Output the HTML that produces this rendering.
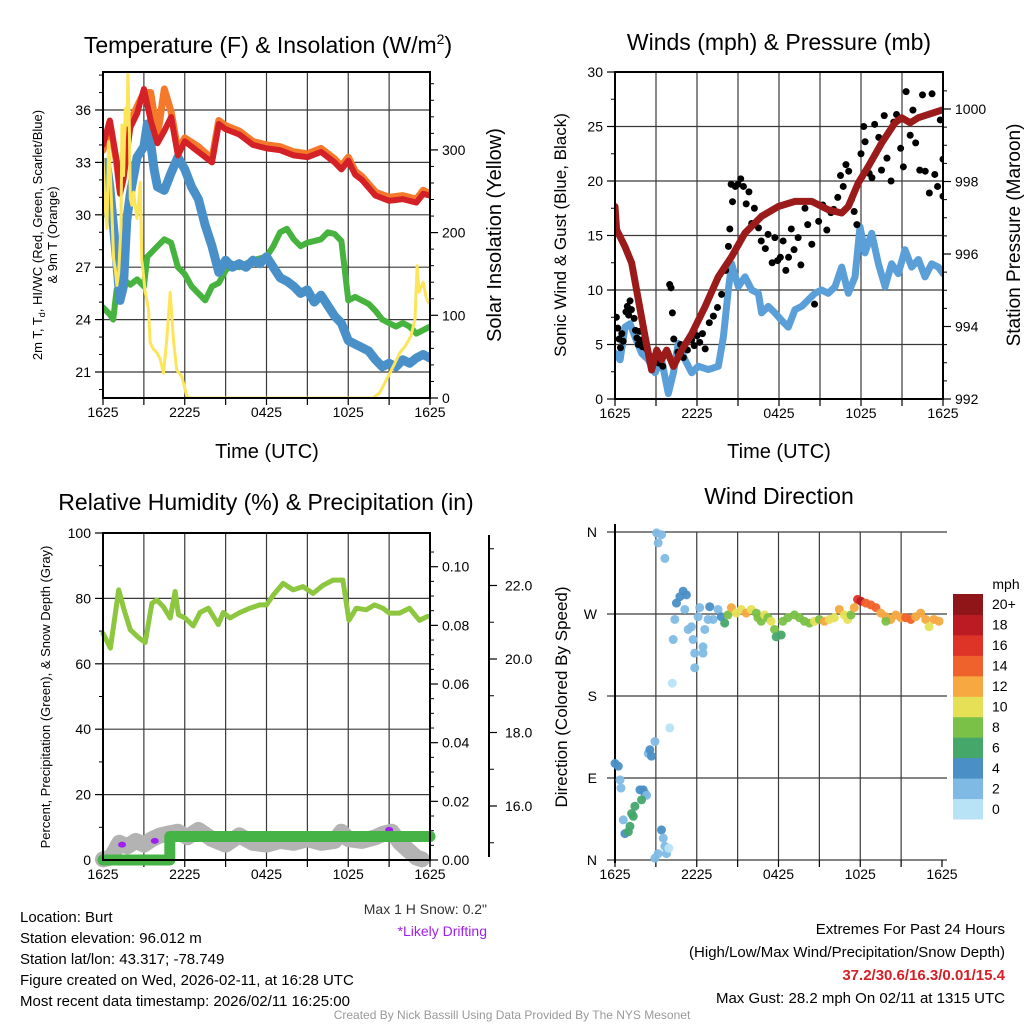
<!DOCTYPE html>
<html><head><meta charset="utf-8">
<style>
html,body{margin:0;padding:0;background:#fff;}
svg{display:block;font-family:"Liberation Sans",Arial,sans-serif;}
</style></head>
<body>
<svg id="chart" width="1024" height="1024" viewBox="0 0 1024 1024" xmlns="http://www.w3.org/2000/svg">
<rect width="1024" height="1024" fill="#fff"/>
<g id="layer"></g>
<!-- Titles -->
<text x="268" y="53" font-size="23" text-anchor="middle">Temperature (F) &amp; Insolation (W/m<tspan dy="-9" font-size="14">2</tspan><tspan dy="9">)</tspan></text>
<text x="779" y="50" font-size="23" text-anchor="middle">Winds (mph) &amp; Pressure (mb)</text>
<text x="266" y="510" font-size="23" text-anchor="middle">Relative Humidity (%) &amp; Precipitation (in)</text>
<text x="779" y="504" font-size="23" text-anchor="middle">Wind Direction</text>
<!-- Axis titles -->
<text transform="translate(42,235) rotate(-90)" font-size="13" text-anchor="middle">2m T, T<tspan font-size="9" dy="3">d</tspan><tspan dy="-3">, HI/WC (Red, Green, Scarlet/Blue)</tspan></text>
<text transform="translate(57,235) rotate(-90)" font-size="13" text-anchor="middle">&amp; 9m T (Orange)</text>
<text transform="translate(501,235) rotate(-90)" font-size="20" text-anchor="middle">Solar Insolation (Yellow)</text>
<text transform="translate(566,235) rotate(-90)" font-size="17" text-anchor="middle">Sonic Wind &amp; Gust (Blue, Black)</text>
<text transform="translate(1020,235) rotate(-90)" font-size="19" text-anchor="middle">Station Pressure (Maroon)</text>
<text transform="translate(50,697) rotate(-90)" font-size="13" text-anchor="middle">Percent, Precipitation (Green), &amp; Snow Depth (Gray)</text>
<text transform="translate(567,697) rotate(-90)" font-size="17" text-anchor="middle">Direction (Colored By Speed)</text>
<text x="267" y="458" font-size="20" text-anchor="middle">Time (UTC)</text>
<text x="779" y="458" font-size="20" text-anchor="middle">Time (UTC)</text>
<!-- footer text -->
<text x="487" y="914" font-size="14" fill="#333" text-anchor="end">Max 1 H Snow: 0.2"</text>
<text x="487" y="936" font-size="14" fill="#a020f0" text-anchor="end">*Likely Drifting</text>
<g font-size="15">
<text x="20" y="922">Location: Burt</text>
<text x="20" y="943">Station elevation: 96.012 m</text>
<text x="20" y="964">Station lat/lon: 43.317; -78.749</text>
<text x="20" y="985">Figure created on Wed, 2026-02-11, at 16:28 UTC</text>
<text x="20" y="1006">Most recent data timestamp: 2026/02/11 16:25:00</text>
</g>
<g font-size="15" text-anchor="end">
<text x="1005" y="934">Extremes For Past 24 Hours</text>
<text x="1005" y="957">(High/Low/Max Wind/Precipitation/Snow Depth)</text>
<text x="1005" y="980" font-weight="bold" fill="#d42027">37.2/30.6/16.3/0.01/15.4</text>
<text x="1005" y="1003">Max Gust: 28.2 mph On 02/11 at 1315 UTC</text>
</g>
<text x="512" y="1019" font-size="12" fill="#999" text-anchor="middle">Created By Nick Bassill Using Data Provided By The NYS Mesonet</text>
</svg>
<script>
// ===== Data =====
const timeTickLabels = ["1625","2225","0425","1025","1625"];
// Panel 1: temperature
const tempHours = [0,0.5,1,1.25,1.5,2,2.5,3,3.5,4,4.5,5,5.5,6,7,8,8.5,9,10,11,12,13,14,15,16,17,17.5,18,18.5,19,20,21,22,23,23.5,24];
const temp2m = [34.0,35.4,33.1,31.2,32.0,35.0,35.8,37.2,35.4,34.1,34.8,35.6,33.4,34.2,33.6,33.0,35.2,34.9,34.6,34.0,33.8,33.7,33.4,33.3,33.6,33.0,32.6,33.1,32.3,32.0,31.1,30.8,30.9,30.7,31.2,31.1];
const temp9m = [33.7,35.3,33.0,31.4,32.4,35.3,36.2,37.0,37.0,34.5,37.2,35.9,33.7,34.4,33.9,33.2,35.4,35.1,34.8,34.2,34.0,33.9,33.6,33.5,33.8,33.2,32.8,33.3,32.5,32.2,31.3,31.0,31.1,30.9,31.4,31.2];
const dewHours = [0,0.25,0.5,1,1.25,1.5,1.75,2,2.5,3,3.25,3.5,3.75,4,4.5,5,5.5,6,6.5,7,7.5,8,8.5,9,9.5,10,10.5,11,11.5,12,12.5,13,13.5,14,14.5,15,15.5,16,16.5,17,17.5,18,18.5,19,19.5,20,20.5,21,21.5,22,22.5,23,23.5,24];
const dewPoint = [30.1,33.0,31.6,27.4,25.1,25.9,29.7,31.2,33.3,33.9,35.2,34.1,32.6,31.6,31.4,32.4,33.3,32.6,31.6,30.9,29.4,28.2,26.7,27.4,27.0,27.2,27.0,27.4,27.2,27.6,27.0,26.4,26.2,25.9,25.5,25.7,25.0,25.4,24.8,24.2,23.8,22.8,22.6,22.4,22.2,21.7,21.3,21.5,21.3,21.7,21.5,21.8,22.0,21.8];
const wcHours = [0,0.5,0.75,1,1.5,2,2.5,3,3.25,3.5,4,4.5,5,5.5,6,6.5,7,7.5,8,8.5,9,9.5,10,11,12,12.5,13,13.5,14,14.5,15,16,16.5,17,17.5,18,18.5,19,19.5,20,20.5,21,21.5,22,22.5,23,23.5,24];
const windChill = [24.7,24.3,24.0,25.7,26.3,26.0,26.3,25.9,27.6,27.8,28.2,28.6,28.4,27.0,26.6,25.9,25.5,25.1,25.9,26.1,26.8,27.2,27.0,27.4,27.6,28.2,29.0,29.2,28.6,28.2,28.4,28.6,29.0,28.9,28.5,25.1,25.3,25.1,24.9,24.5,24.0,23.8,23.6,23.8,23.6,23.2,23.4,23.6];
const solarHours = [0,0.17,0.29,0.41,0.54,0.66,0.78,0.9,1.02,1.15,1.32,1.39,1.51,1.63,1.76,1.83,1.93,2.0,2.12,2.24,2.49,2.61,2.73,2.85,3.1,3.34,3.46,3.7,3.95,4.2,4.44,4.68,4.93,5.17,5.41,5.78,6.15,6.4,19.8,20.3,20.8,21.3,21.8,22.2,22.6,22.9,23.05,23.2,23.5,23.7,23.9];
const solar = [290,229,205,310,269,221,168,156,136,152,209,330,269,350,330,395,330,241,233,249,217,237,261,168,128,107,67,59,55,47,30,71,128,71,34,26,2,0,0,6,22,38,55,63,75,95,160,128,140,123,115];
// Panel 2: winds & pressure
const windHours = [0,0.37,0.73,1.1,1.46,1.95,2.44,2.93,3.41,3.9,4.27,4.63,5.12,5.61,6.1,6.83,7.56,7.93,8.29,8.54,9.02,9.51,10,10.49,10.73,11.22,11.71,12.2,12.68,13.17,13.66,14.15,14.63,15.12,15.61,16.1,16.59,17.07,17.56,17.93,18.29,18.78,19.27,19.76,20.24,20.73,21.22,21.71,22.2,22.68,23.17,23.66,24];
const windSpeed = [4.2,3.6,6.6,6.9,5.7,4.2,3.6,2.4,3.6,0.5,2.4,5.1,3.6,2.4,3.0,2.7,3.0,5.7,10.0,12.4,10.3,11.2,10.0,9.7,7.9,8.5,7.9,7.2,6.6,8.2,8.5,9.1,9.7,10.0,9.7,10.3,12.1,9.7,11.2,15.8,13.4,15.2,12.4,10.3,12.4,11.5,13.7,12.1,12.8,11.2,12.4,12.1,11.5];
const gustHours = [0.1,0.2,0.3,0.4,0.5,0.6,0.8,0.9,1.0,1.1,1.2,1.4,1.5,1.6,1.7,1.8,1.9,2.0,2.3,2.6,2.8,3.2,3.5,4.0,4.1,4.2,4.3,4.6,4.8,5.0,5.3,5.6,5.8,6.0,6.2,6.4,6.6,6.9,7.2,7.5,7.8,8.1,8.3,8.4,8.5,8.6,8.8,9.0,9.2,9.4,9.6,9.8,10.0,10.2,10.5,10.7,11.0,11.2,11.5,11.7,11.9,12.1,12.3,12.5,12.7,12.9,13.1,13.4,13.6,13.9,14.1,14.4,14.6,14.9,15.2,15.5,15.8,16.0,16.3,16.5,16.7,16.9,17.1,17.3,17.5,17.7,18.0,18.2,18.3,18.6,18.8,19.0,19.3,19.5,19.7,19.9,20.2,20.4,20.6,20.9,21.1,21.3,21.6,21.8,22.0,22.3,22.5,22.7,23.0,23.2,23.4,23.6,23.8,24.0,24.0];
const gustSpeed = [7.5,6.5,5.5,4.7,6.0,5.3,8.0,8.5,7.7,9.0,8.2,7.4,6.3,5.6,5.0,6.2,5.4,4.8,4.6,3.9,3.6,3.3,3.0,10.5,10.2,7.9,5.5,4.3,5.0,3.8,4.5,5.4,4.9,5.8,5.2,6.0,4.6,7.0,7.6,8.4,9.6,11.8,14.0,15.6,19.7,18.1,19.5,19.7,20.2,19.5,17.9,19.0,16.1,17.5,15.7,14.5,13.8,15.1,12.5,14.8,12.7,13.0,14.5,11.8,13.0,15.6,13.7,14.8,12.3,17.5,16.0,14.2,8.7,16.3,17.8,15.5,17.1,17.4,18.5,20.5,19.5,21.5,20.9,18.3,17.2,16.0,22.5,25.0,23.6,20.7,20.3,25.2,24.0,21.0,26.0,22.1,20.0,25.4,26.1,23.0,21.3,28.2,24.2,26.5,23.5,21.0,27.9,20.9,18.9,28.0,20.6,19.5,25.6,18.6,22.0];
const presHours = [0,0.12,0.73,1.22,1.71,2.2,2.68,3.05,3.41,3.78,4.27,4.88,5.61,6.59,7.56,8.54,9.51,10.73,11.95,13.17,14.39,15.61,16.59,17.07,17.8,18.54,19.51,20.49,20.98,21.59,22.2,22.93,24];
const pressure = [997.31,996.67,996.2,995.75,994.73,993.72,992.8,993.35,993.08,993.35,992.9,993.35,993.8,994.55,995.37,995.93,996.58,997.04,997.31,997.45,997.45,997.22,997.13,997.31,997.96,998.42,999.06,999.62,999.76,999.62,999.76,999.85,999.98];
// Panel 3: humidity, precip, snow
const rhHours = [0,0.54,1.15,1.51,2.0,2.61,3.1,3.59,3.95,4.44,4.93,5.29,5.54,6.02,6.63,7.12,7.73,8.46,8.83,9.32,10.05,10.78,11.51,12.0,12.49,13.22,13.95,14.68,15.41,16.15,16.88,17.61,18.05,18.59,19.32,19.93,20.54,21.02,21.76,22.49,23.22,23.83];
const relHum = [69.3,64.8,82.6,77.0,70.4,68.0,66.5,78.5,79.5,77.4,74.0,82.1,75.0,74.0,71.6,75.7,77.0,72.0,75.7,74.0,75.7,77.0,78.0,78.0,81.0,84.6,82.6,83.6,81.5,84.0,85.6,85.6,73.3,77.0,76.5,78.0,77.0,75.5,75.5,77.0,73.3,74.5];
const precipHours = [0,4.9,4.9,24];
const precip = [0,0,0.008,0.008];
const snowHours = [0,0.6,1.2,1.8,2.4,3.0,3.6,4.2,4.8,5.5,6.2,7.0,8.0,9.0,10.0,11.0,12.0,13.0,14.0,15.0,16.0,17.0,17.5,18.0,19.0,20.0,20.6,21.2,21.8,22.4,23.0,23.4];
const snowDepth = [14.55,14.6,15.0,14.9,15.05,14.95,15.1,15.2,15.25,15.3,15.15,15.35,15.1,14.95,15.2,15.0,14.95,15.05,15.0,15.1,15.0,15.05,15.3,15.1,15.05,15.15,15.25,15.3,15.0,14.8,14.6,14.55];
const driftHours = [1.4,3.8,21.0];
const driftDepth = [14.95,15.05,15.35];
// Panel 4: wind direction
const dirHours = [0,0.24,0.37,0.44,0.61,0.73,0.98,1.1,1.22,1.34,1.46,1.83,2.07,2.2,2.32,1.95,2.44,2.56,2.68,2.93,3.05,3.17,3.41,3.66,2.93,3.17,3.41,3.54,3.66,3.78,3.95,4.02,4.2,4.27,4.39,4.51,4.76,5.0,5.24,5.12,5.37,5.61,5.73,5.85,5.85,6.1,6.22,6.46,6.46,6.59,6.83,6.95,7.2,7.56,7.8,8.05,8.29,8.54,8.9,9.27,9.63,10,10.37,10.49,10.73,10.98,11.22,11.46,11.71,11.83,12.2,12.32,12.68,13.17,13.54,13.9,14.27,14.63,15,15.37,15.73,16.1,16.46,16.83,17.07,17.32,17.56,17.8,18.05,18.41,18.78,19.15,19.51,19.88,20.24,20.61,20.98,21.34,21.71,22.07,22.44,22.8,23.05,23.41,23.78,19.88];
const dirDeg = [106,103,88,79,44,29,31,37,51,48,59,77,77,73,71,66,117,121,114,130,359,348,357,331,2,7,33,24,15,7,13,145,194,242,264,282,289,295,291,275,253,256,242,227,211,267,277,234,227,253,264,278,264,275,267,260,269,277,271,275,271,275,271,266,262,269,266,262,253,245,247,262,266,269,266,262,260,262,264,262,264,266,275,269,264,269,277,286,284,282,280,277,271,267,264,269,266,266,264,267,271,264,256,264,262,262];
const dirSpeed = [4,4,2,2,2,4,6,6,6,6,6,4,4,4,2,6,2,4,4,2,2,2,2,2,2,2,4,2,2,2,0,0,0,2,2,4,4,4,4,2,2,2,2,2,2,2,2,2,2,2,2,4,2,2,4,6,8,12,10,10,12,10,8,8,8,10,8,10,8,6,6,8,8,8,8,8,8,10,8,12,10,10,12,10,10,8,12,16,18,14,14,14,12,12,12,12,12,14,14,12,12,12,10,12,12,8];
const speedBins = ["0","2","4","6","8","10","12","14","16","18","20+"];

// ===== Helpers =====
const NS = "http://www.w3.org/2000/svg";
const layer = document.getElementById("layer");
function mk(tag, attrs, parent) {
  const e = document.createElementNS(NS, tag);
  for (const k in attrs) e.setAttribute(k, attrs[k]);
  (parent || layer).appendChild(e);
  return e;
}
function lin(d0, d1, r0, r1) { return v => r0 + (v - d0) * (r1 - r0) / (d1 - d0); }
function poly(xs, ys, fx, fy, color, w, name, opts) {
  const pts = xs.map((h, i) => fx(h).toFixed(1) + "," + fy(ys[i]).toFixed(1)).join(" ");
  const p = mk("polyline", Object.assign({points: pts, fill: "none", stroke: color, "stroke-width": w, "stroke-linejoin": "round", "stroke-linecap": "round"}, opts || {}));
  
  
  return p;
}
function txt(x, y, s, size, anchor, name) {
  const t = mk("text", {x: x, y: y, "font-size": size, "text-anchor": anchor || "middle"});
  t.textContent = s;
  
  
  return t;
}
function frame(L, R, T, B, fx, name) {
  for (let h = 3; h < 24; h += 3) mk("line", {x1: fx(h), x2: fx(h), y1: T, y2: B, stroke: "#3a3a3a", "stroke-width": 1.2});
  for (let h = 0; h <= 24; h += 3) mk("line", {x1: fx(h), x2: fx(h), y1: B, y2: B + 7, stroke: "#000", "stroke-width": 1.2});
  timeTickLabels.forEach((s, i) => { txt(fx(i * 6), B + 19, s, 14, "middle", name + "-x-tick-" + i); });
}
function box(L, R, T, B, name) {
  const r = mk("rect", {x: L, y: T, width: R - L, height: B - T, fill: "none", stroke: "#000", "stroke-width": 2});
  
  
}
function yTicks(x, dir, vals, fy, labels, lenMaj, minors, name, fsz) {
  vals.forEach((v, i) => {
    mk("line", {x1: x, x2: x + dir * lenMaj, y1: fy(v), y2: fy(v), stroke: "#000", "stroke-width": 1.2});
    if (labels) txt(x + dir * (lenMaj + 4), fy(v) + 5, labels[i], fsz || 14, dir < 0 ? "end" : "start", name + "-tick-" + i);
  });
  (minors || []).forEach(v => mk("line", {x1: x, x2: x + dir * 4, y1: fy(v), y2: fy(v), stroke: "#000", "stroke-width": 1}));
}

// ===== Panel 1 =====
(function () {
  const L = 103, R = 430, T = 72, B = 398;
  const fx = lin(0, 24, L, R), fy = lin(21, 36, 372, 110), fs = lin(0, 100, 398, 315.3);
  [21, 24, 27, 30, 33, 36].forEach(v => mk("line", {x1: L, x2: R, y1: fy(v), y2: fy(v), stroke: "#3a3a3a", "stroke-width": 1.2}));
  frame(L, R, T, B, fx, "temperature");
  const lab = [21, 24, 27, 30, 33, 36];
  const minors = []; for (let v = 20; v <= 38; v++) if (v % 3) minors.push(v);
  yTicks(L, -1, lab, fy, lab.map(String), 8, minors, "temperature-y", 14);
  const sm = []; for (let v = 20; v <= 380; v += 20) if (v % 100) sm.push(v);
  yTicks(R, 1, [0, 100, 200, 300], fs, ["0", "100", "200", "300"], 8, sm, "solar-y", 14);
  const clip = mk("clipPath", {id: "c1"}); mk("rect", {x: L, y: T, width: R - L, height: B - T}, clip);
  const cg = mk("g", {"clip-path": "url(#c1)"});
  function P(xs, ys, f, c, w, n) { const p = poly(xs, ys, fx, f, c, w, n); cg.appendChild(p); }
  P(wcHours, windChill, fy, "#47b33f", 6, "wind-chill-line");
  P(dewHours, dewPoint, fy, "#4a90c8", 9, "dew-point-line");
  P(tempHours, temp9m, fy, "#f4792b", 7, "temp-9m-line");
  P(tempHours, temp2m, fy, "#d42027", 6, "temp-2m-line");
  P(solarHours, solar, fs, "#fde55a", 3, "solar-insolation-line");
  box(L, R, T, B, "temperature-plot-frame");
})();

// ===== Panel 2 =====
(function () {
  const L = 615, R = 943, T = 72, B = 399;
  const fx = lin(0, 24, L, R), fy = lin(0, 30, B, T), fp = lin(992, 1000, 399, 109);
  [5, 10, 15, 20, 25].forEach(v => mk("line", {x1: L, x2: R, y1: fy(v), y2: fy(v), stroke: "#3a3a3a", "stroke-width": 1.2}));
  frame(L, R, T, B, fx, "winds");
  const lab = [0, 5, 10, 15, 20, 25, 30];
  yTicks(L, -1, lab, fy, lab.map(String), 8, [2.5, 7.5, 12.5, 17.5, 22.5, 27.5], "wind-y", 14);
  const pl = [992, 994, 996, 998, 1000];
  yTicks(R, 1, pl, fp, pl.map(String), 8, [992.5, 993, 993.5, 994.5, 995, 995.5, 996.5, 997, 997.5, 998.5, 999, 999.5, 1000.5], "pressure-y", 14);
  const clip = mk("clipPath", {id: "c2"}); mk("rect", {x: L, y: T, width: R - L, height: B - T}, clip);
  const cg = mk("g", {"clip-path": "url(#c2)"});
  cg.appendChild(poly(windHours, windSpeed, fx, fy, "#5a9fd8", 7, "sonic-wind-line"));
  gustHours.forEach((h, i) => {
    const c = mk("circle", {cx: fx(h), cy: fy(gustSpeed[i]), r: 3.5, fill: "#000"}, cg);
    
    
  });
  cg.appendChild(poly(presHours, pressure, fx, fp, "#9b1b1b", 7, "pressure-line"));
  box(L, R, T, B, "winds-plot-frame");
})();

// ===== Panel 3 =====
(function () {
  const L = 103, R = 430, T = 533, B = 860;
  const fx = lin(0, 24, L, R), fy = lin(0, 100, B, T), fpr = lin(0, 0.1, 860, 566.7), fsn = lin(16, 22, 806, 585.5);
  [20, 40, 60, 80].forEach(v => mk("line", {x1: L, x2: R, y1: fy(v), y2: fy(v), stroke: "#3a3a3a", "stroke-width": 1.2}));
  frame(L, R, T, B, fx, "humidity");
  const lab = [0, 20, 40, 60, 80, 100];
  yTicks(L, -1, lab, fy, lab.map(String), 8, [10, 30, 50, 70, 90], "humidity-y", 14);
  const pv = [0, 0.02, 0.04, 0.06, 0.08, 0.10];
  yTicks(R, 1, pv, fpr, ["0.00", "0.02", "0.04", "0.06", "0.08", "0.10"], 8, [0.005, 0.01, 0.015, 0.025, 0.03, 0.035, 0.045, 0.05, 0.055, 0.065, 0.07, 0.075, 0.085, 0.09, 0.095, 0.105], "precip-y", 14);
  const ax = mk("line", {x1: 489, x2: 489, y1: 535, y2: 857, stroke: "#000", "stroke-width": 2});
  
  
  const sv = [16, 18, 20, 22];
  sv.forEach((v, i) => {
    mk("line", {x1: 489, x2: 497, y1: fsn(v), y2: fsn(v), stroke: "#000", "stroke-width": 1.2});
    txt(505, fsn(v) + 5, v.toFixed(1), 14, "start", "snow-y-tick-" + i);
  });
  [15, 17, 19, 21, 23].forEach(v => { if (fsn(v) > 535 && fsn(v) < 857) mk("line", {x1: 489, x2: 494, y1: fsn(v), y2: fsn(v), stroke: "#000"}); });
  layer.appendChild(poly(snowHours, snowDepth, fx, fsn, "#b3b3b3", 16, "snow-depth-line"));
  driftHours.forEach((h, i) => {
    const e = mk("ellipse", {cx: fx(h), cy: fsn(driftDepth[i]), rx: 4, ry: 3, fill: "#a020f0"});
    
    
  });
  layer.appendChild(poly(precipHours, precip, fx, fpr, "#45b345", 11, "precipitation-line"));
  layer.appendChild(poly(rhHours, relHum, fx, fy, "#8dc63f", 5, "relative-humidity-line"));
  box(L, R, T, B, "humidity-plot-frame");
})();

// ===== Panel 4 =====
(function () {
  const L = 615, R = 942, T = 532, B = 860;
  const fx = lin(0, 24, L, R), fy = lin(0, 360, B, T);
  [90, 180, 270, 360, 0].forEach(v => mk("line", {x1: L - 8, x2: R + 5, y1: fy(v), y2: fy(v), stroke: "#3a3a3a", "stroke-width": 1.2}));
  frame(L, R, T, B, fx, "direction");
  ["N", "E", "S", "W", "N"].forEach((s, i) => txt(597, fy(i * 90) + 5, s, 14, "end", "direction-y-tick-" + i));
  mk("line", {x1: L, x2: L, y1: T - 8, y2: B + 3, stroke: "#000", "stroke-width": 2});
  const colors = ["#b8e3f7", "#7fbae5", "#4a8fc6", "#46a76b", "#7ac148", "#e6e057", "#f7a840", "#f0622b", "#de3327", "#bb1c24", "#8f1518"];
  const col = s => colors[Math.min(10, Math.floor(s / 2))];
  dirHours.forEach((h, i) => {
    const c = mk("circle", {cx: fx(h), cy: fy(dirDeg[i]), r: 4.5, fill: col(dirSpeed[i]), "fill-opacity": 0.95});
    
    
  });
  const cbTop = 594, cbH = 225 / 11;
  txt(1006, 589, "mph", 14, "middle", "colorbar-title");
  speedBins.forEach((s, i) => {
    const k = 10 - i;
    const r = mk("rect", {x: 953, y: cbTop + k * cbH, width: 30, height: cbH + 0.5, fill: colors[i]});
    
    
    txt(992, cbTop + k * cbH + cbH / 2 + 5, s, 14, "start", "colorbar-label-" + s);
  });
})();
</script>
</body></html>
